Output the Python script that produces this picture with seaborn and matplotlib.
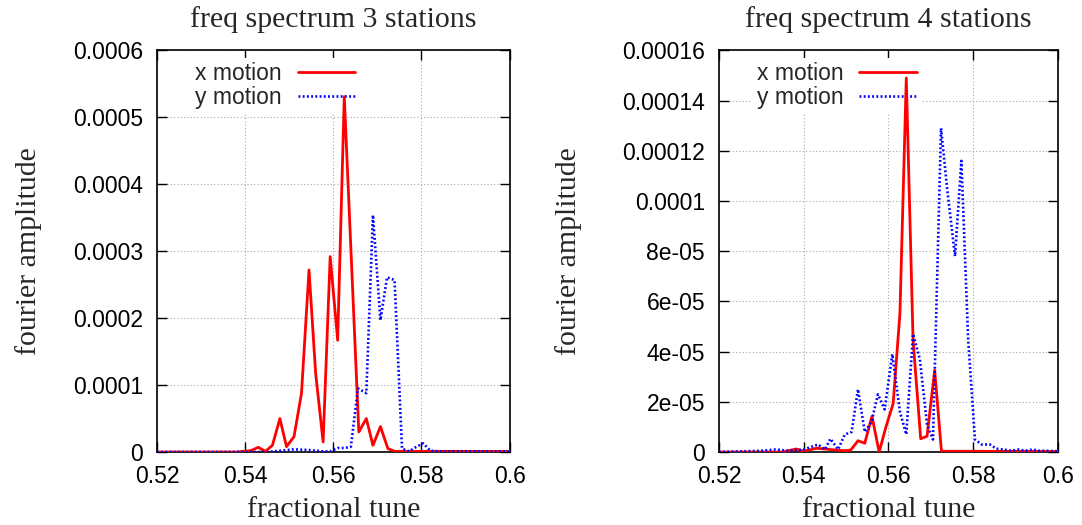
import seaborn as sns
import matplotlib.pyplot as plt
import pandas as pd

# --- 3 stations ---
tune3_x = [0.52, 0.538, 0.5413, 0.5430, 0.5446, 0.5462, 0.5479, 0.5494, 0.5511, 0.5528, 0.5545,
           0.5560, 0.5577, 0.5593, 0.5610, 0.5625, 0.5658, 0.5675, 0.5690, 0.5707, 0.5724, 0.5740, 0.6]
amp3_x = [0, 0, 0.000002, 0.000007, 0.000001, 0.00001, 0.00005, 0.000008, 0.000023, 0.000088, 0.000272,
          0.000118, 0.000015, 0.000292, 0.000167, 0.000531, 0.00003, 0.00005, 0.00001, 0.000038, 0.000005,
          0.000001, 0.000001]
tune3_y = [0.52, 0.545, 0.5479, 0.5511, 0.5545, 0.5577, 0.5593, 0.5610, 0.5625, 0.5640, 0.5656, 0.5675,
           0.5690, 0.5707, 0.5722, 0.5739, 0.5756, 0.5772, 0.5789, 0.5804, 0.5820, 0.5840, 0.6]
amp3_y = [0, 0, 0.000002, 0.000004, 0.000003, 0.000001, 0.000001, 0.000006, 0.000006, 0.000008, 0.000095,
          0.000088, 0.000354, 0.000197, 0.000261, 0.000257, 0.000005, 0.000001, 0.000008, 0.000013,
          0.000002, 0.000001, 0.000001]

# --- 4 stations ---
tune4_x = [0.52, 0.535, 0.5382, 0.5400, 0.5430, 0.5463, 0.5497, 0.5511, 0.5528, 0.5544, 0.5561, 0.5578,
           0.5594, 0.5611, 0.5627, 0.5642, 0.5658, 0.5676, 0.5691, 0.5709, 0.5725, 0.58, 0.6]
amp4_x = [0, 0, 0.0000012, 0.0000003, 0.0000015, 0.000001, 0.0000005, 0.0000008, 0.0000045, 0.0000035,
          0.0000142, 0.0, 0.00001, 0.0000193, 0.0000552, 0.000149, 0.0000446, 0.0000053, 0.0000063,
          0.0000326, 0.0000003, 0.0000003, 0.0000002]
tune4_y = [0.52, 0.530, 0.5333, 0.5366, 0.5400, 0.5417, 0.5434, 0.5450, 0.5463, 0.5481, 0.5497, 0.5513,
           0.5528, 0.5544, 0.5560, 0.5575, 0.5591, 0.5609, 0.5627, 0.5642, 0.5658, 0.5674, 0.5691, 0.5705,
           0.5724, 0.5739, 0.5757, 0.5772, 0.5788, 0.5804, 0.5820, 0.5839, 0.5855, 0.5872, 0.5890, 0.5906,
           0.5923, 0.5940, 0.5956, 0.5973, 0.6]
amp4_y = [0, 0.0000005, 0.000001, 0.0000005, 0.000001, 0.000002, 0.000003, 0.000001, 0.0000053, 0.000001,
          0.000007, 0.000008, 0.000025, 0.000008, 0.000012, 0.000023, 0.000017, 0.000039, 0.000016, 0.000007,
          0.000047, 0.000037, 0.000011, 0.000005, 0.000129, 0.000104, 0.000078, 0.000116, 0.000045,
          0.000005, 0.000003, 0.000003, 0.0000013, 0.000001, 0.0000005, 0.000001, 0.0000005, 0.000001,
          0.0000005, 0.0000005, 0.0000003]

series_names = ["x motion", "y motion"]
titles = ["freq spectrum 3 stations", "freq spectrum 4 stations"]
xticks = [0.52, 0.54, 0.56, 0.58, 0.6]
xtick_labels = ["0.52", "0.54", "0.56", "0.58", "0.6"]
yticks3 = [0, 0.0001, 0.0002, 0.0003, 0.0004, 0.0005, 0.0006]
ytick_labels3 = ["0", "0.0001", "0.0002", "0.0003", "0.0004", "0.0005", "0.0006"]
yticks4 = [0, 0.00002, 0.00004, 0.00006, 0.00008, 0.0001, 0.00012, 0.00014, 0.00016]
ytick_labels4 = ["0", "2e-05", "4e-05", "6e-05", "8e-05", "0.0001", "0.00012", "0.00014", "0.00016"]

sns.set_style("ticks")
plt.rcParams['font.family'] = ['Liberation Sans', 'DejaVu Sans']
serif = ['Liberation Serif', 'DejaVu Serif']

fig = plt.figure(figsize=(10.82, 5.25), dpi=100)
ax1 = fig.add_axes([0.145, 0.139, 0.326, 0.765])
ax2 = fig.add_axes([0.6645, 0.139, 0.3133, 0.765])

# axis, data, ticks, title, legend x, ylabel pad
panels = [
    (ax1, tune3_x, amp3_x, tune3_y, amp3_y, yticks3, ytick_labels3, titles[0], 0.095, 22),
    (ax2, tune4_x, amp4_x, tune4_y, amp4_y, yticks4, ytick_labels4, titles[1], 0.098, 29),
]

for ax, tx, ax_amp, ty, ay_amp, yt, ytl, title, leg_x, ypad in panels:
    dfx = pd.DataFrame({"tune": tx, "amp": ax_amp})
    dfy = pd.DataFrame({"tune": ty, "amp": ay_amp})
    sns.lineplot(data=dfx, x="tune", y="amp", ax=ax, color="#ff0000", linewidth=2,
                 label=series_names[0], sort=False, estimator=None, zorder=3)
    sns.lineplot(data=dfy, x="tune", y="amp", ax=ax, color="#0000ff", linewidth=1.9,
                 linestyle=(0, (0.7, 0.9)), label=series_names[1], sort=False, estimator=None, zorder=3)
    ax.set_xlim(0.52, 0.6)
    ax.set_ylim(yt[0], yt[-1])
    ax.set_xticks(xticks)
    ax.set_xticklabels(xtick_labels)
    ax.set_yticks(yt)
    ax.set_yticklabels(ytl)
    ax.tick_params(direction="in", length=7, width=1, top=True, right=True,
                   labelsize=16.5, colors="black", pad=9)
    ax.tick_params(axis="y", pad=10)
    ax.set_axisbelow(True)
    ax.grid(True, color="#a8a8a8", linestyle=(0, (1, 2)), linewidth=0.8)
    for sp in ax.spines.values():
        sp.set_linewidth(1.2)
        sp.set_color("black")
    ax.set_title(title, family=serif, fontsize=21.5, pad=17)
    ax.set_xlabel("fractional tune", family=serif, fontsize=21.5, labelpad=7)
    ax.set_ylabel("fourier amplitude", family=serif, fontsize=21.5, labelpad=ypad)
    leg = ax.legend(loc="upper left", bbox_to_anchor=(leg_x, 0.982), borderaxespad=0,
                    markerfirst=False, frameon=True, edgecolor="none", facecolor="white",
                    framealpha=1, fancybox=False, fontsize=16.5, handlelength=2.5,
                    handletextpad=0.7, labelspacing=0.04, borderpad=0.2)
    leg.set_zorder(1)

fig.savefig("out.png", dpi=100)
